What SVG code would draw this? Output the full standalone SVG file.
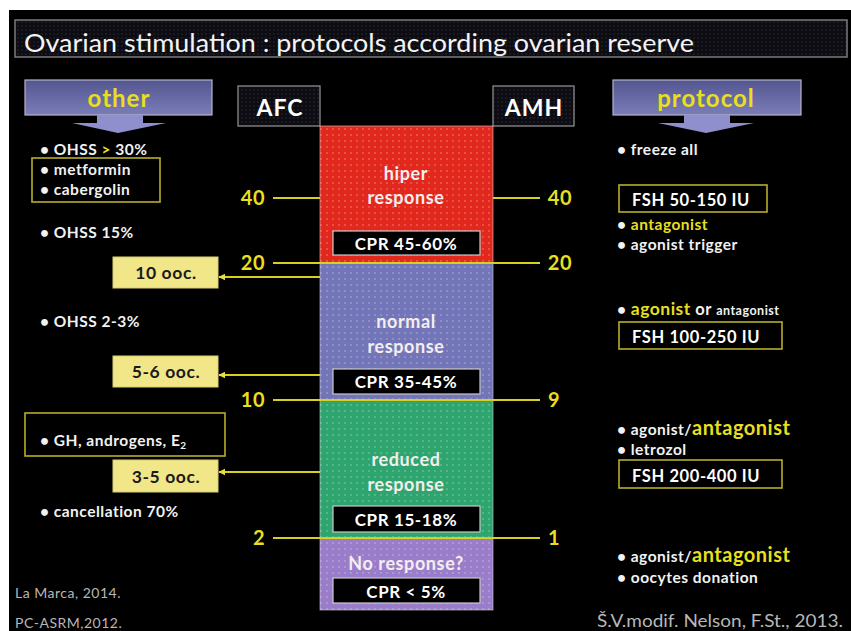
<svg xmlns="http://www.w3.org/2000/svg" width="851" height="631" viewBox="0 0 851 631">
<style>
text{font-family:Lato,"Open Sans","Liberation Sans",sans-serif;font-weight:bold}
.w{fill:#f2f2f2;font-size:15.5px;letter-spacing:0.5px}
.y{fill:#e8df1e}
.num{fill:#e8df1e;font-size:20px;letter-spacing:0.6px}
.ctr{fill:#f4eeee;font-size:18px;letter-spacing:0.6px;text-anchor:middle}
.cpr{fill:#000;stroke:#c8c8c8;stroke-width:1.2}
.cprt{fill:#fff;font-size:17px;letter-spacing:0.6px;text-anchor:middle}
.fsh{fill:#fff;font-size:16.5px;letter-spacing:0.6px}
.yl{stroke:#d8d020;stroke-width:2.2;fill:none}
.ybox{fill:none;stroke:#b8ae2a;stroke-width:1.6}
.ooc{fill:#f1e789;stroke:#d8cf70;stroke-width:1}
.ooct{fill:#1a1a1a;font-size:17.5px;letter-spacing:0.6px;text-anchor:middle}
.hdr{fill:url(#hg);stroke:#b4b4c8;stroke-width:1.2}
.arr{fill:#8e8fcc}
.hdt{fill:#e8df1e;font-size:24px;letter-spacing:1px;text-anchor:middle}
.box2{fill:#fff;font-size:23px;letter-spacing:1px;text-anchor:middle}
.cite{fill:#b8b8b8;font-weight:normal;font-size:14px;letter-spacing:0.5px}
.title{fill:#f4f4f4;font-weight:normal;font-size:25px}
</style>
<defs>
<linearGradient id="hg" x1="0" y1="0" x2="0" y2="1">
<stop offset="0" stop-color="#545690"/>
<stop offset="1" stop-color="#7b7db9"/>
</linearGradient>
<pattern id="dots" width="6" height="6" patternUnits="userSpaceOnUse">
<circle cx="3" cy="3" r="0.9" fill="#ffffff" fill-opacity="0.28"/>
</pattern>
<pattern id="tex" width="4" height="4" patternUnits="userSpaceOnUse">
<rect width="4" height="4" fill="#0c0c12"/>
<circle cx="2" cy="2" r="0.8" fill="#2a2a38"/>
</pattern>
<marker id="ah" viewBox="0 0 10 10" refX="9" refY="5" markerWidth="3.2" markerHeight="3.2" orient="auto">
<path d="M10,5 L0,0 L0,10 Z" fill="#e8df40"/>
</marker>
</defs>
<rect width="851" height="631" fill="#ffffff"/>
<rect x="9" y="10" width="842" height="621" fill="#000"/>

<g id="title">
<rect x="15" y="20" width="832" height="37" fill="url(#tex)" stroke="#7a7a7a" stroke-width="1.5"/>
<text class="title" x="24" y="52" textLength="670" lengthAdjust="spacingAndGlyphs">Ovarian stimulation : protocols according ovarian reserve</text>
</g>

<g id="other">
<rect class="hdr" x="25" y="80" width="187" height="35"/>
<path class="arr" d="M97,115 H143 V123 H166 L118,133 L72,123 H97 Z"/>
<text class="hdt" x="119" y="107">other</text>
</g>

<g id="protocol">
<rect class="hdr" x="613" y="80" width="188" height="35"/>
<path class="arr" d="M684,115 H730 V123 H754 L706,133 L658,123 H684 Z"/>
<text class="hdt" x="706" y="107">protocol</text>
</g>

<g id="afc">
<rect x="238" y="86" width="82" height="40" fill="url(#tex)" stroke="#8a8a8a" stroke-width="1.3"/>
<text class="box2" x="280" y="116">AFC</text>
</g>
<g id="amh">
<rect x="493" y="86" width="81" height="40" fill="url(#tex)" stroke="#8a8a8a" stroke-width="1.3"/>
<text class="box2" x="534" y="116">AMH</text>
</g>

<g id="hiper">
<rect x="320" y="126" width="173" height="137" fill="#e2281c"/>
<rect x="320" y="126" width="173" height="137" fill="url(#dots)"/>
<text class="ctr" x="406" y="180">hiper</text>
<text class="ctr" x="406" y="204">response</text>
<rect class="cpr" x="333" y="231" width="147" height="24"/>
<text class="cprt" x="406" y="250">CPR 45-60%</text>
</g>

<g id="normal">
<rect x="320" y="263" width="173" height="137" fill="#7275b8"/>
<rect x="320" y="263" width="173" height="137" fill="url(#dots)"/>
<text class="ctr" x="406" y="328">normal</text>
<text class="ctr" x="406" y="353">response</text>
<rect class="cpr" x="333" y="369" width="147" height="25"/>
<text class="cprt" x="406" y="388">CPR 35-45%</text>
</g>

<g id="reduced">
<rect x="320" y="400" width="173" height="138" fill="#2ea46e"/>
<rect x="320" y="400" width="173" height="138" fill="url(#dots)"/>
<text class="ctr" x="406" y="466">reduced</text>
<text class="ctr" x="406" y="491">response</text>
<rect class="cpr" x="333" y="506" width="147" height="26"/>
<text class="cprt" x="406" y="526">CPR 15-18%</text>
</g>

<g id="noresp">
<rect x="320" y="538" width="173" height="72" fill="#9a7dca"/>
<rect x="320" y="538" width="173" height="72" fill="url(#dots)"/>
<text class="ctr" x="406" y="570">No response?</text>
<rect class="cpr" x="333" y="578" width="147" height="25"/>
<text class="cprt" x="406" y="598">CPR &lt; 5%</text>
</g>
<rect x="320" y="126" width="173" height="484" fill="none" stroke="#d8d0d8" stroke-opacity="0.6" stroke-width="1"/>

<g id="ooc10">
<rect class="ooc" x="113" y="257" width="105" height="31"/>
<text class="ooct" x="166" y="279">10 ooc.</text>
</g>
<g id="ooc56">
<rect class="ooc" x="113" y="356" width="105" height="31"/>
<text class="ooct" x="166" y="378">5-6 ooc.</text>
</g>
<g id="ooc35">
<rect class="ooc" x="113" y="460" width="105" height="32"/>
<text class="ooct" x="166" y="483">3-5 ooc.</text>
</g>

<g id="connectors">
<line class="yl" x1="273" y1="198" x2="320" y2="198"/>
<line class="yl" x1="493" y1="198" x2="540" y2="198"/>
<line class="yl" x1="273" y1="263" x2="540" y2="263"/>
<line class="yl" x1="273" y1="400" x2="540" y2="400"/>
<line class="yl" x1="273" y1="538" x2="540" y2="538"/>
<line class="yl" x1="320" y1="277" x2="219" y2="277" marker-end="url(#ah)"/>
<line class="yl" x1="320" y1="375" x2="219" y2="375" marker-end="url(#ah)"/>
<line class="yl" x1="320" y1="472" x2="219" y2="472" marker-end="url(#ah)"/>
</g>

<g id="afc-values">
<text class="num" x="253" y="205" text-anchor="middle">40</text>
<text class="num" x="253" y="270" text-anchor="middle">20</text>
<text class="num" x="253" y="407" text-anchor="middle">10</text>
<text class="num" x="259" y="545" text-anchor="middle">2</text>
</g>
<g id="amh-values">
<text class="num" x="560" y="205" text-anchor="middle">40</text>
<text class="num" x="560" y="270" text-anchor="middle">20</text>
<text class="num" x="554" y="407" text-anchor="middle">9</text>
<text class="num" x="554" y="545" text-anchor="middle">1</text>
</g>

<g id="other-items">
<text class="w" x="40" y="155">• OHSS <tspan class="y">&gt;</tspan> 30%</text>
<rect class="ybox" x="32" y="158" width="128" height="44"/>
<text class="w" x="40" y="175">• metformin</text>
<text class="w" x="40" y="195">• cabergolin</text>
<text class="w" x="40" y="238">• OHSS 15%</text>
<text class="w" x="40" y="327">• OHSS 2-3%</text>
<rect class="ybox" x="25" y="413" width="200" height="43"/>
<text class="w" x="40" y="446">• GH, androgens, E<tspan font-size="10" dy="3">2</tspan></text>
<text class="w" x="40" y="517">• cancellation 70%</text>
</g>

<g id="protocol-items">
<text class="w" x="617" y="155">• freeze all</text>
<rect class="ybox" x="619" y="185" width="148" height="27"/>
<text class="fsh" x="632" y="206">FSH 50-150 IU</text>
<text class="w" x="617" y="230">• <tspan class="y">antagonist</tspan></text>
<text class="w" x="617" y="250">• agonist trigger</text>
<text class="w" x="617" y="315">• <tspan class="y" font-size="17.5">agonist</tspan><tspan font-size="16.5"> or </tspan><tspan font-size="12.5">antagonist</tspan></text>
<rect class="ybox" x="619" y="322" width="163" height="27"/>
<text class="fsh" x="632" y="343">FSH 100-250 IU</text>
<text class="w" x="617" y="435">• agonist/<tspan class="y" font-size="20">antagonist</tspan></text>
<text class="w" x="617" y="455">• letrozol</text>
<rect class="ybox" x="619" y="460" width="163" height="28"/>
<text class="fsh" x="632" y="482">FSH 200-400 IU</text>
<text class="w" x="617" y="562">• agonist/<tspan class="y" font-size="20">antagonist</tspan></text>
<text class="w" x="617" y="583">• oocytes donation</text>
</g>

<g id="citations">
<text class="cite" x="15" y="598">La Marca, 2014.</text>
<text class="cite" x="15" y="628">PC-ASRM,2012.</text>
<text class="cite" x="597" y="627" style="font-size:17px;letter-spacing:0" textLength="246" lengthAdjust="spacingAndGlyphs">Š.V.modif. Nelson, F.St., 2013.</text>
</g>
</svg>
